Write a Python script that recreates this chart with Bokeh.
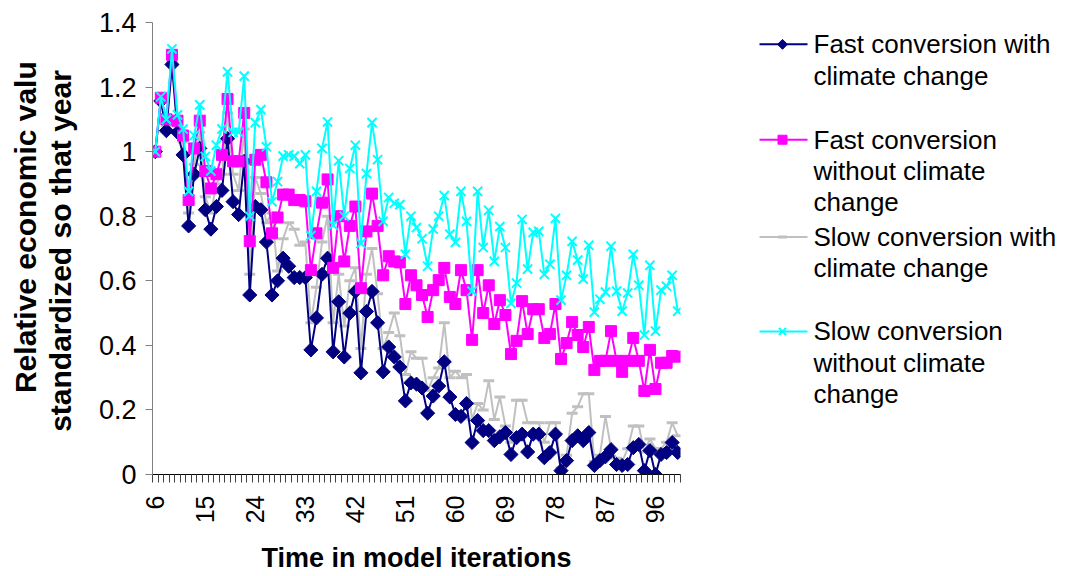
import math
from bokeh.plotting import figure
from bokeh.models import Range1d, FixedTicker
from bokeh.layouts import row
from bokeh.embed import file_html
from bokeh.resources import INLINE
from bokeh.core.properties import value

# ---------------- data ----------------
iterations = [6, 7, 8, 9, 10, 11, 12, 13, 14, 15,
              16, 17, 18, 19, 20, 21, 22, 23, 24, 25,
              26, 27, 28, 29, 30, 31, 32, 33, 34, 35,
              36, 37, 38, 39, 40, 41, 42, 43, 44, 45,
              46, 47, 48, 49, 50, 51, 52, 53, 54, 55,
              56, 57, 58, 59, 60, 61, 62, 63, 64, 65,
              66, 67, 68, 69, 70, 71, 72, 73, 74, 75,
              76, 77, 78, 79, 80, 81, 82, 83, 84, 85,
              86, 87, 88, 89, 90, 91, 92, 93, 94, 95,
              96, 97, 98, 99, 100]

fast_with_cc = [1.0, 1.157, 1.065, 1.27, 1.06, 0.99, 0.77, 0.93, 1.01, 0.82,
                0.76, 0.83, 0.88, 1.04, 0.845, 0.805, 0.97, 0.556, 0.83, 0.82,
                0.72, 0.556, 0.60, 0.67, 0.645, 0.61, 0.61, 0.61, 0.386, 0.485,
                0.62, 0.67, 0.38, 0.535, 0.364, 0.50, 0.567, 0.315, 0.505, 0.567,
                0.47, 0.318, 0.395, 0.364, 0.333, 0.228, 0.284, 0.28, 0.268, 0.19,
                0.243, 0.274, 0.349, 0.24, 0.186, 0.18, 0.22, 0.099, 0.167, 0.136,
                0.136, 0.105, 0.117, 0.13, 0.062, 0.114, 0.125, 0.07, 0.125, 0.125,
                0.052, 0.068, 0.125, 0.012, 0.043, 0.105, 0.12, 0.105, 0.13, 0.028,
                0.043, 0.055, 0.077, 0.031, 0.028, 0.031, 0.083, 0.093, 0.012, 0.074,
                0.0, 0.062, 0.068, 0.099, 0.068]

fast_without_cc = [1.0, 1.167, 1.10, 1.30, 1.096, 1.05, 0.85, 1.01, 1.096, 0.94,
                   0.886, 0.93, 0.99, 1.163, 0.97, 0.97, 1.12, 0.723, 0.975, 0.99,
                   0.905, 0.747, 0.796, 0.867, 0.867, 0.85, 0.85, 0.846, 0.633, 0.747,
                   0.842, 0.914, 0.64, 0.80, 0.66, 0.77, 0.83, 0.577, 0.753, 0.87,
                   0.77, 0.617, 0.676, 0.66, 0.657, 0.528, 0.617, 0.586, 0.556, 0.488,
                   0.571, 0.602, 0.64, 0.55, 0.528, 0.633, 0.571, 0.417, 0.633, 0.50,
                   0.586, 0.466, 0.54, 0.494, 0.373, 0.414, 0.537, 0.435, 0.512, 0.512,
                   0.423, 0.435, 0.528, 0.358, 0.407, 0.472, 0.432, 0.395, 0.457, 0.324,
                   0.352, 0.352, 0.444, 0.352, 0.318, 0.352, 0.423, 0.352, 0.259, 0.386,
                   0.265, 0.346, 0.346, 0.367, 0.365]

slow_with_cc = [1.0, 1.16, 1.08, 1.28, 1.08, 1.03, 0.81, 0.96, 1.06, 0.86,
                0.81, 0.90, 0.93, 1.12, 0.93, 0.88, 1.07, 0.62, 0.92, 0.87,
                0.78, 0.81, 0.63, 0.73, 0.78, 0.76, 0.71, 0.72, 0.47, 0.58,
                0.72, 0.80, 0.47, 0.62, 0.46, 0.60, 0.64, 0.39, 0.62, 0.70,
                0.56, 0.39, 0.44, 0.50, 0.43, 0.31, 0.38, 0.36, 0.36, 0.26,
                0.30, 0.33, 0.47, 0.30, 0.32, 0.30, 0.31, 0.17, 0.22, 0.20,
                0.29, 0.17, 0.24, 0.15, 0.10, 0.23, 0.23, 0.16, 0.16, 0.16,
                0.10, 0.16, 0.16, 0.02, 0.06, 0.19, 0.21, 0.25, 0.25, 0.04,
                0.06, 0.18, 0.08, 0.05, 0.04, 0.08, 0.15, 0.15, 0.07, 0.11,
                0.08, 0.08, 0.10, 0.16, 0.12]

slow_without_cc = [1.0, 1.17, 1.10, 1.318, 1.114, 1.07, 0.877, 1.05, 1.145, 0.985,
                   0.94, 1.02, 1.07, 1.247, 1.06, 1.06, 1.234, 0.80, 1.09, 1.13,
                   1.015, 0.845, 0.907, 0.986, 0.99, 0.986, 0.963, 0.99, 0.74, 0.877,
                   1.01, 1.092, 0.772, 0.972, 0.80, 0.948, 1.02, 0.716, 0.932, 1.09,
                   0.975, 0.784, 0.858, 0.84, 0.836, 0.682, 0.80, 0.765, 0.73, 0.645,
                   0.76, 0.80, 0.864, 0.744, 0.719, 0.877, 0.784, 0.568, 0.877, 0.703,
                   0.818, 0.66, 0.768, 0.703, 0.53, 0.593, 0.79, 0.636, 0.75, 0.753,
                   0.62, 0.651, 0.793, 0.54, 0.617, 0.722, 0.664, 0.605, 0.71, 0.503,
                   0.543, 0.565, 0.707, 0.568, 0.506, 0.562, 0.682, 0.586, 0.432, 0.648,
                   0.444, 0.571, 0.583, 0.617, 0.506]

x_tick_labels = ["6", "15", "24", "33", "42", "51", "60", "69", "78", "87", "96"]
y_ticks = [0, 0.2, 0.4, 0.6, 0.8, 1, 1.2, 1.4]
y_tick_labels = ["0", "0.2", "0.4", "0.6", "0.8", "1", "1.2", "1.4"]

legend_lines = [["Fast conversion with", "climate change"],
                ["Fast conversion", "without climate", "change"],
                ["Slow conversion with", "climate change"],
                ["Slow conversion", "without climate", "change"]]

y_title_lines = ["Relative economic valu", "standardized so that year"]
x_title = "Time in model iterations"

# ---------------- layout constants (page pixels) ----------------
FONT = "Liberation Sans"
NAVY, MAGENTA, GRAY, CYAN = "#000080", "#FF00FF", "#C0C0C0", "#00FFFF"
H = 576                 # height of every figure
FR_TOP, FR_BOT = 22, 477  # plot frame top / bottom
W_TITLE = 90            # left panel holding the y title
W_MAIN = 610
W_LEG = 370
BORDER_TOP = FR_TOP
BORDER_BOT = H - FR_BOT


def side_panel(width):
    f = figure(width=width, height=H, output_backend="svg", toolbar_location=None,
               x_range=Range1d(0, width), y_range=Range1d(H - FR_BOT, H - FR_TOP),
               x_axis_type=None, y_axis_type=None,
               min_border_left=0, min_border_right=0,
               min_border_top=BORDER_TOP, min_border_bottom=BORDER_BOT)
    f.outline_line_color = None
    f.xgrid.visible = False
    f.ygrid.visible = False
    return f


# ---------------- y title panel ----------------
yt = side_panel(W_TITLE)
yt.text([25, 60], [H - 228, H - 252], text=y_title_lines, angle=math.pi / 2,
        text_font=value(FONT), text_font_size="30px", text_font_style="bold",
        text_align="center", text_baseline="middle", text_color="black")

# ---------------- main chart ----------------
series = [
    dict(y=slow_with_cc, color=GRAY, marker="dash", size=11, lw=3, angle=0),
    dict(y=fast_with_cc, color=NAVY, marker="square", size=10, lw=1, angle=math.pi / 4),
    dict(y=fast_without_cc, color=MAGENTA, marker="square", size=11, lw=1, angle=0),
    dict(y=slow_without_cc, color=CYAN, marker="x", size=13, lw=2, angle=0),
]

p = figure(width=W_MAIN, height=H, output_backend="svg", toolbar_location=None,
           x_range=Range1d(iterations[0] - 0.5, iterations[-1] + 0.5),
           y_range=Range1d(y_ticks[0], y_ticks[-1]),
           min_border_left=152 - W_TITLE, min_border_right=W_MAIN - (680 - W_TITLE),
           min_border_top=BORDER_TOP, min_border_bottom=BORDER_BOT)
p.outline_line_color = None
p.xgrid.visible = False
p.ygrid.visible = False

for s in series:
    p.line(iterations, s["y"], line_color=s["color"], line_width=2)
    p.scatter(iterations, s["y"], marker=s["marker"], size=s["size"], angle=s["angle"],
              line_color=s["color"], fill_color=s["color"], line_width=s["lw"])

# x axis
p.xaxis.ticker = FixedTicker(ticks=[int(t) for t in x_tick_labels],
                             minor_ticks=[i - 0.5 for i in iterations] + [iterations[-1] + 0.5])
p.xaxis.major_label_overrides = {int(t): t for t in x_tick_labels}
p.xaxis.major_label_orientation = math.pi / 2
p.xaxis.major_tick_line_color = None
p.xaxis.major_tick_out = 8
p.xaxis.major_tick_in = 0
p.xaxis.minor_tick_out = 8
p.xaxis.minor_tick_in = 0
p.xaxis.minor_tick_line_color = "#404040"
p.xaxis.axis_line_color = "black"
p.xaxis.major_label_text_font = FONT
p.xaxis.major_label_text_font_size = "25px"
p.xaxis.major_label_text_color = "black"
p.xaxis.major_label_standoff = 13
p.xaxis.axis_label = x_title
p.xaxis.axis_label_text_font = FONT
p.xaxis.axis_label_text_font_size = "27px"
p.xaxis.axis_label_text_font_style = "bold"
p.xaxis.axis_label_text_color = "black"
p.xaxis.axis_label_standoff = 17

# y axis
p.yaxis.ticker = FixedTicker(ticks=y_ticks)
p.yaxis.major_label_overrides = {t: l for t, l in zip(y_ticks, y_tick_labels)}
p.yaxis.minor_tick_line_color = None
p.yaxis.major_tick_out = 7
p.yaxis.major_tick_in = 0
p.yaxis.axis_line_color = "#808080"
p.yaxis.major_tick_line_color = "#808080"
p.yaxis.major_label_text_font = FONT
p.yaxis.major_label_text_font_size = "27px"
p.yaxis.major_label_text_color = "black"
p.yaxis.major_label_standoff = 9

# ---------------- legend panel ----------------
lg = side_panel(W_LEG)
x0 = W_TITLE + W_MAIN
item_y = [44, 140, 238, 333]
legend_series = [
    dict(color=NAVY, marker="square", size=7, angle=math.pi / 4, lw=1),
    dict(color=MAGENTA, marker="square", size=9, angle=0, lw=1),
    dict(color=GRAY, marker="dash", size=9, angle=0, lw=3),
    dict(color=CYAN, marker="x", size=10, angle=0, lw=2),
]
for yy, ls, lines in zip(item_y, legend_series, legend_lines):
    lg.line([759 - x0, 807 - x0], [H - yy, H - yy], line_color=ls["color"], line_width=2)
    lg.scatter([782 - x0], [H - yy], marker=ls["marker"], size=ls["size"], angle=ls["angle"],
               line_color=ls["color"], fill_color=ls["color"], line_width=ls["lw"])
    lg.text([813 - x0] * len(lines), [H - yy - 31.5 * k for k in range(len(lines))], text=lines,
            text_font=value(FONT), text_font_size="26px", text_baseline="middle",
            text_align="left", text_color="black")

layout = row(yt, p, lg)
open("out.html", "w").write(file_html(layout, INLINE))
